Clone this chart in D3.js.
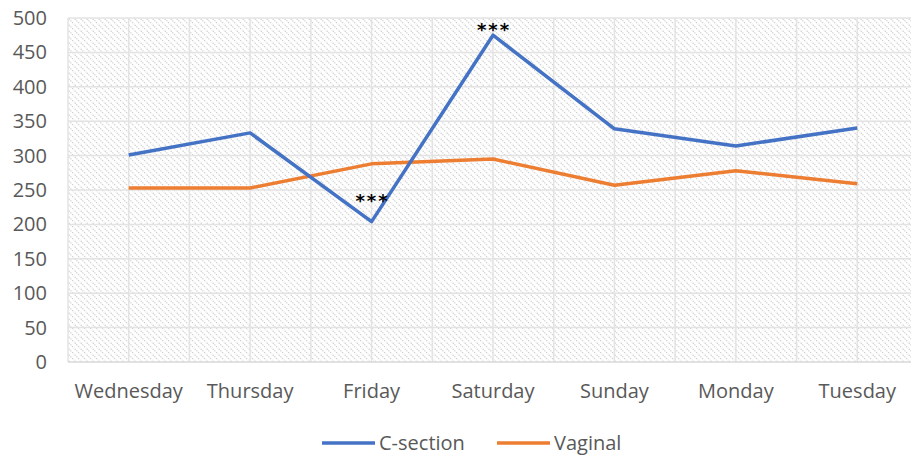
<!DOCTYPE html>
<html>
<head>
<meta charset="utf-8">
<script src="https://cdn.jsdelivr.net/npm/d3@7"></script>
<style>
  body { margin: 0; background: #fff; }
  text { font-family: "Open Sans", Lato, sans-serif; }
</style>
</head>
<body>
<div id="chart"></div>
<script>
// Chart data
const days = ["Wednesday", "Thursday", "Friday", "Saturday", "Sunday", "Monday", "Tuesday"];
const cSection = [301, 333, 204, 475, 339, 314, 340];
const vaginal = [253, 253, 288, 295, 257, 278, 259];
const yTicks = [0, 50, 100, 150, 200, 250, 300, 350, 400, 450, 500];
const starDays = ["Friday", "Saturday"];

const W = 911, H = 457;
const margin = { top: 18, left: 68 };
const plotW = 850, plotH = 344;
const fontFam = "'Open Sans', Lato, sans-serif";

const svg = d3.select("#chart").append("svg")
    .attr("width", W)
    .attr("height", H);

// hatch fill
const defs = svg.append("defs");
const pat = defs.append("pattern")
    .attr("id", "hatch")
    .attr("patternUnits", "userSpaceOnUse")
    .attr("width", 6)
    .attr("height", 6);
pat.append("path")
    .attr("d", "M-1,-1 L7,7 M-1,5 L1,7 M5,-1 L7,1")
    .attr("stroke", "#d2d2d2")
    .attr("stroke-width", 1.3)
    .attr("stroke-dasharray", "1.4,1");

const g = svg.append("g")
    .attr("transform", `translate(${margin.left},${margin.top})`);

const x = d3.scaleBand().domain(days).range([0, plotW]);
const y = d3.scaleLinear().domain([0, 500]).range([plotH, 0]);
const cx = d => x(d) + x.bandwidth() / 2;

g.append("rect")
    .attr("width", plotW)
    .attr("height", plotH)
    .attr("fill", "url(#hatch)");

// vertical grid: band edges and centres
const vLines = [];
days.forEach(d => { vLines.push(x(d)); vLines.push(cx(d)); });
g.selectAll(".vgrid")
    .data(vLines)
    .enter().append("line")
    .attr("x1", d => d).attr("x2", d => d)
    .attr("y1", 0).attr("y2", plotH)
    .attr("stroke", "#e3e3e3")
    .attr("stroke-width", 1.5);

// horizontal grid
g.selectAll(".hgrid")
    .data(yTicks)
    .enter().append("line")
    .attr("x1", 0).attr("x2", plotW)
    .attr("y1", d => y(d)).attr("y2", d => y(d))
    .attr("stroke", d => d === 0 ? "#d9d9d9" : "#e3e3e3")
    .attr("stroke-width", 1.5);

// y axis labels
const yAxis = g.append("g")
    .call(d3.axisLeft(y).tickValues(yTicks).tickSize(0).tickPadding(21));
yAxis.select(".domain").remove();
yAxis.selectAll("text")
    .attr("fill", "#595959")
    .style("font-size", "20px")
    .style("font-family", fontFam);

// x axis labels
const xAxis = g.append("g")
    .attr("transform", `translate(0,${plotH})`)
    .call(d3.axisBottom(x).tickSize(0).tickPadding(22));
xAxis.select(".domain").remove();
xAxis.selectAll("text")
    .attr("fill", "#595959")
    .style("font-size", "20px")
    .style("font-family", fontFam);

// lines
const line = d3.line()
    .x((d, i) => cx(days[i]))
    .y(d => y(d));

g.append("path")
    .datum(vaginal)
    .attr("d", line)
    .attr("fill", "none")
    .attr("stroke", "#ED7D31")
    .attr("stroke-width", 3.5)
    .attr("stroke-linejoin", "round");

g.append("path")
    .datum(cSection)
    .attr("d", line)
    .attr("fill", "none")
    .attr("stroke", "#4472C4")
    .attr("stroke-width", 3.5)
    .attr("stroke-linejoin", "round");

// significance stars
g.selectAll(".star")
    .data(starDays)
    .enter().append("text")
    .attr("x", d => cx(d) + 1)
    .attr("y", d => y(cSection[days.indexOf(d)]) - (d === "Friday" ? 15 : -1))
    .attr("text-anchor", "middle")
    .attr("fill", "#000")
    .style("font-size", "18px")
    .style("font-weight", "bold")
    .style("letter-spacing", "2px")
    .style("font-family", "'DejaVu Sans', sans-serif")
    .text("***");

// legend
const legend = svg.append("g").attr("transform", "translate(322,443)");
const items = [
    { name: "C-section", color: "#4472C4", dx: 0 },
    { name: "Vaginal", color: "#ED7D31", dx: 175 }
];
items.forEach(it => {
    legend.append("line")
        .attr("x1", it.dx).attr("x2", it.dx + 53)
        .attr("y1", 0).attr("y2", 0)
        .attr("stroke", it.color)
        .attr("stroke-width", 3.5);
    legend.append("text")
        .attr("x", it.dx + 57)
        .attr("y", 7)
        .attr("fill", "#595959")
        .style("font-size", "20px")
        .style("font-family", fontFam)
        .text(it.name);
});
</script>
</body>
</html>
